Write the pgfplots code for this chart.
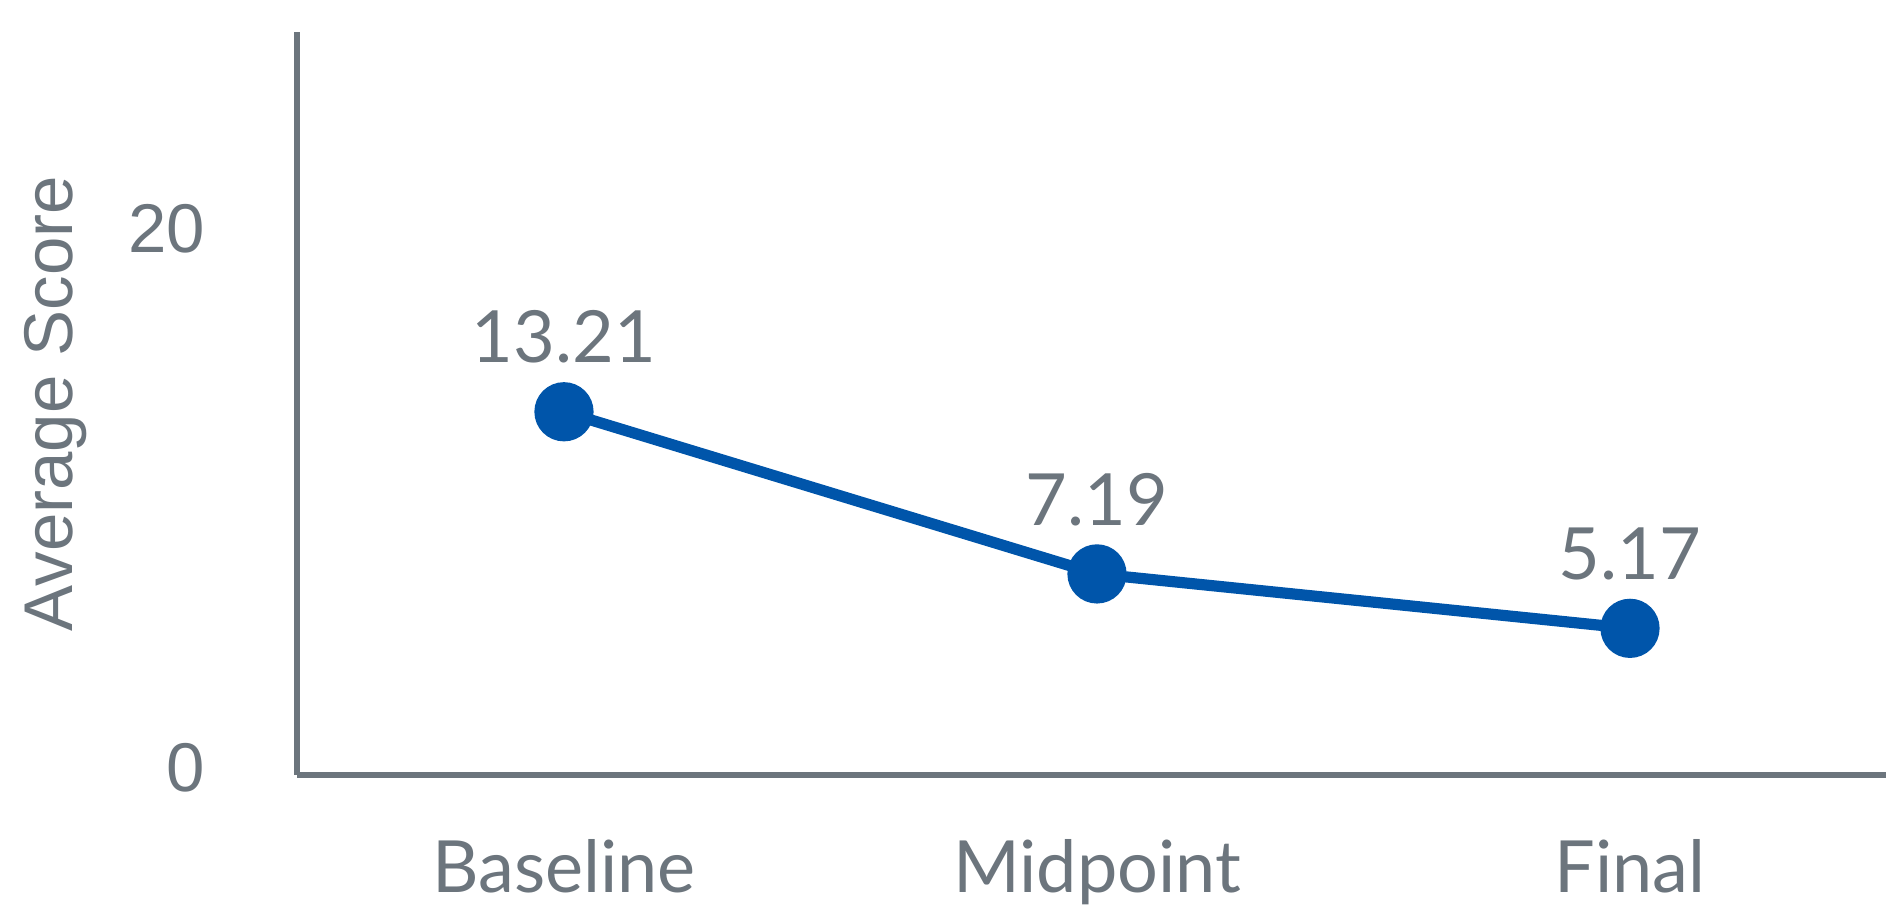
\documentclass[border=0pt]{standalone}
\usepackage{fontspec}
\setmainfont{Lato}
\newfontfamily\libsans{Liberation Sans}
\usepackage{pgfplots}
\pgfplotsset{compat=1.18}
\definecolor{txtgray}{HTML}{6C757D}
\definecolor{axgray}{HTML}{6C757D}
\definecolor{lineblue}{HTML}{0055AA}
\begin{document}
\begin{tikzpicture}
\useasboundingbox (0,0) rectangle (471.5pt,227pt);
\begin{axis}[
 at={(74.25pt,33.25pt)}, anchor=south west,
 scale only axis, width=397.25pt, height=185.75pt,
 xmin=-0.5009, xmax=2.4803, ymin=-0.2747, ymax=27.31,
 axis x line*=bottom, axis y line*=left,
 axis line style={axgray, line width=1.5pt, -},
 xtick={0,1,2}, xticklabels={Baseline,Midpoint,Final},
 ytick={0,20},
 major tick length=0pt,
 tick style={draw=none},
 /pgf/number format/assume math mode=true,
 yticklabel style={font=\libsans\fontsize{17.25}{20}\selectfont, text=txtgray, anchor=east, inner sep=0pt, xshift=-22.75pt},
 xticklabel style={font=\fontsize{18}{20}\selectfont, text=txtgray, anchor=base, inner sep=0pt, yshift=-29.5pt},
 ylabel={Average Score},
 every axis y label/.style={at={(axis description cs:-0.1519,0.5)}, rotate=90, anchor=center, font=\libsans\fontsize{17.25}{20}\selectfont, text=txtgray},
 clip=false,
]
\addplot[lineblue, line width=2.8pt, mark=*, mark size=6pt, mark options={solid, fill=lineblue, draw=none},
 nodes near coords, point meta=explicit symbolic,
 nodes near coords style={font=\fontsize{18}{20}\selectfont, text=txtgray, anchor=base, inner sep=0pt, yshift=12.2pt}]
 coordinates {(0,13.21) [13.21] (1,7.19) [7.19] (2,5.17) [5.17]};
\end{axis}
\end{tikzpicture}
\end{document}
